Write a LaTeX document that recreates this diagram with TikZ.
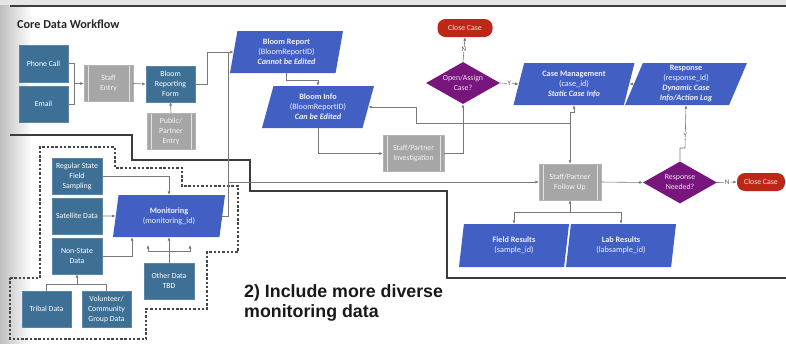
\documentclass[tikz,border=0pt]{standalone}
\usepackage{fontspec}
\setmainfont{Carlito}
\newfontfamily\arialfont{Liberation Sans}
\usetikzlibrary{shapes.geometric,arrows.meta,calc}
\definecolor{cTeal}{RGB}{62,112,150}
\definecolor{cBlue}{RGB}{66,96,196}
\definecolor{cPurple}{RGB}{120,22,126}
\definecolor{cRed}{RGB}{190,38,22}
\definecolor{cGray}{RGB}{166,166,166}
\definecolor{cLine}{RGB}{120,120,120}
\definecolor{cDark}{RGB}{60,60,60}
\definecolor{cDash}{RGB}{70,70,70}
\begin{document}
\begin{tikzpicture}[x=1pt,y=-1pt,
  base/.style={font=\fontsize{7.8}{10}\selectfont, align=center, inner sep=0pt, text=white},
  tealbox/.style={base, rectangle, fill=cTeal, draw=cTeal!85!white, line width=0.4pt, minimum width=49, minimum height=36},
  gproc/.style={base, rectangle, fill=cGray, draw=cGray!85!white, text=white!90!cGray, minimum width=#1, minimum height=36,
    path picture={\draw[white!70!cGray, line width=0.6pt]
      ([xshift=4pt]path picture bounding box.north west) -- ([xshift=4pt]path picture bounding box.south west)
      ([xshift=-4pt]path picture bounding box.north east) -- ([xshift=-4pt]path picture bounding box.south east);}},
  para/.style n args={3}{base, font=\fontsize{8.2}{10}\selectfont, trapezium, trapezium left angle=#1, trapezium right angle=#2,
    trapezium stretches body, fill=cBlue, text=white!92!cBlue, minimum width=#3, minimum height=42},
  diam/.style={base, diamond, aspect=1.76, fill=cPurple, text=white!88!cPurple, minimum width=74, minimum height=42},
  closebox/.style={base, rectangle, rounded corners=8pt, fill=cRed, text=white!88!cRed, minimum height=18},
  conn/.style={draw=cLine, line width=0.6pt},
  arr/.style={conn, -{Latex[length=3.5pt,width=3pt]}},
  lbl/.style={font=\fontsize{7}{7}\selectfont, fill=white, inner sep=0.6pt, text=cLine!70!black}
]
\useasboundingbox (0,0) rectangle (786,343);
% background
\fill[white] (0,0) rectangle (786,343);
\shade[left color=black!25, right color=white] (0,0) rectangle (32,343);
\fill[black!10] (0,0) rectangle (786,5);
\draw[cDark, line width=1.3pt] (10,6) -- (786,6);
\draw[cDark, line width=1.2pt] (10,135) -- (132,135) -- (132,160) -- (250,160) -- (250,191) -- (447,191) -- (447,278) -- (786,278);
\draw[cDash, line width=1.4pt, dash pattern=on 2.5pt off 1.8pt]
  (10,278) -- (40,278) -- (40,147) -- (115,147) -- (115,168) -- (182,168) -- (182,186) -- (238,186)
  -- (238,252) -- (207,252) -- (207,309) -- (146,309) -- (146,339) -- (10,339) -- cycle;

% title
\node[anchor=west, font=\bfseries\fontsize{12.2}{14}\selectfont, text=black!85, inner sep=0pt] (title) at (17,24) {Core Data Workflow};

% top-left nodes
\node[tealbox, minimum height=37] (phone) at (43.5,63.5) {Phone Call};
\node[tealbox] (email) at (43.5,104) {Email};
\node[gproc=49] (staffentry) at (108.5,83.5) {Staff\\Entry};
\node[tealbox] (brf) at (170.5,84) {Bloom\\Reporting\\Form};
\node[gproc=48] (public) at (171,131) {Public/\\Partner\\Entry};

% parallelograms
\node[para={74}{106}{113}] (breport) at (286.5,52) {\textbf{Bloom Report}\\(BloomReportID)\\\textbf{\itshape Cannot be Edited}};
\node[para={66}{114}{112}] (binfo) at (318,107) {\textbf{Bloom Info}\\(BloomReportID)\\\textbf{\itshape Can be Edited}};
\node[gproc=61] (investig) at (413.5,153.5) {Staff/Partner\\Investigation};
\node[diam] (openassign) at (463,83) {Open/Assign\\Case?};
\node[closebox, minimum width=55] (close1) at (465,28) {Close Case};
\node[para={68}{112}{121}] (casemgmt) at (574,84) {\textbf{Case Management}\\(case\_id)\\\textbf{\itshape Static Case Info}};
\node[para={64}{116}{122}] (response) at (686,84) {\textbf{Response}\\(response\_id)\\\textbf{\itshape Dynamic Case}\\\textbf{\itshape Info/Action Log}};
\node[gproc=62] (followup) at (570,182) {Staff/Partner\\Follow Up};
\node[diam] (respneeded) at (680,182.5) {Response\\Needed?};
\node[closebox, minimum width=48] (close2) at (761,182) {Close Case};
\node[para={74}{106}{110}, minimum height=43] (field) at (514,245.5) {\textbf{Field Results}\\(sample\_id)};
\node[para={74}{106}{110}, minimum height=43] (lab) at (621,245.5) {\textbf{Lab Results}\\(labsample\_id)};

% monitoring cluster
\node[tealbox, minimum width=50] (rsfs) at (77,176) {Regular State\\Field\\Sampling};
\node[tealbox, minimum width=50] (sat) at (77,216) {Satellite Data};
\node[tealbox, minimum width=50] (nonstate) at (77,256) {Non-State\\Data};
\node[tealbox] (tribal) at (46.5,309) {Tribal Data};
\node[tealbox] (volunteer) at (106.5,309) {Volunteer/\\Community\\Group Data};
\node[tealbox, minimum width=50] (other) at (169,281) {Other Data\\TBD};
\node[para={72}{108}{112}] (mon) at (169,216) {\textbf{Monitoring}\\(monitoring\_id)};

% caption
\node[anchor=north west, align=left, inner sep=0pt, text=black!90,
  font=\arialfont\bfseries\fontsize{17.8}{20.5}\selectfont] (caption) at (244,284) {2) Include more diverse\\monitoring data};

% junction coordinates
\coordinate (j1) at (74,83.5);
\coordinate (j2) at (207,84);
\coordinate (jm) at (228,52);
\coordinate (jf) at (228,182);
\coordinate (jc) at (570,123);
\coordinate (jb) at (416,123);
\coordinate (jr) at (570,212);
\coordinate (jo) at (169,251);
\coordinate (o1) at (148,245);
\coordinate (o2) at (190,245);
\coordinate (jt) at (77,284);
\coordinate (nsx) at (132,0);
\coordinate (ry) at (685,148);

% connectors
\draw[conn] (phone.east) -| (j1);
\draw[conn] (email.east) -| (j1);
\draw[arr] (j1) -- (staffentry.west);
\draw[arr] (staffentry.east) -- (brf.west);
\draw[arr] (public.north) -- (brf.south);
\draw[arr] (brf.east) -- (j2) |- (breport.west);
\draw[conn] (mon.east) -| (jm);
\draw[arr] (jf) -- (followup.west);
\draw[arr] (breport.center |- breport.south) -- ++(0,7) -| (binfo.center |- binfo.north);
\draw[arr] (binfo.center |- binfo.south) |- (investig.west);
\draw[arr] (investig.east) -| (openassign.south);
\draw[arr] (openassign.north) -- node[lbl] {N} (close1.south);
\draw[arr] (openassign.east) -- node[lbl] {Y} (casemgmt.west);
\draw[arr] (response.west) -- (casemgmt.east);
\draw[arr] (jc) -- (570,112) -- (574,112) -- (casemgmt.center |- casemgmt.south);
\draw[arr] (jc) -- (jb) |- (binfo.east);
\draw[arr] (jc) -- (followup.north);
\draw[arr] (followup.east) -- (respneeded.west);
\draw[arr] (respneeded.east) -- node[lbl] {N} (close2.west);
\draw[arr] (respneeded.north) |- (ry) -- node[lbl, pos=0.3] {Y} (response.center |- response.south);
\draw[arr] (jr) -- (followup.south);
\draw[arr] (jr) -| (field.center |- field.north);
\draw[arr] (jr) -| (lab.center |- lab.north);
\draw[arr] (rsfs.east) -| (mon.center |- mon.north);
\draw[arr] (sat.east) -- (mon.west);
\draw[arr] (nonstate.east) -| (mon.south -| nsx);
\draw[arr] (other.north) -- (mon.center |- mon.south);
\draw[arr] (jo) -| (o1);
\draw[arr] (jo) -| (o2);
\draw[conn] (tribal.north) |- (jt);
\draw[conn] (volunteer.north) |- (jt);
\draw[arr] (jt) -- (nonstate.south);
\end{tikzpicture}
\end{document}
